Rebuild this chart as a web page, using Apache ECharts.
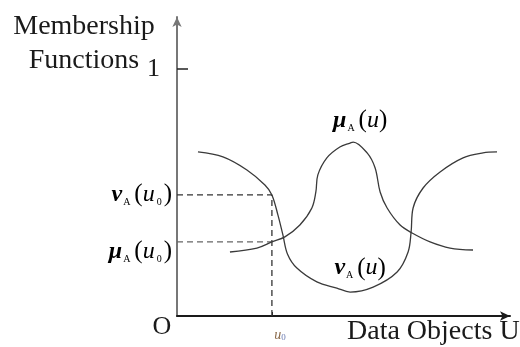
<!DOCTYPE html>
<html>
<head>
<meta charset="utf-8">
<script src="https://cdn.jsdelivr.net/npm/echarts@6/dist/echarts.min.js"></script>
<style>
  html, body { margin: 0; padding: 0; background: #ffffff; }
  #chart { width: 520px; height: 347px; }
</style>
</head>
<body>
<div id="chart"></div>
<script>
// Non-membership function nu_A(u): sampled (u, value) pairs
const nuU = [0.63, 1.38, 2.10, 2.64, 2.85, 3.03, 3.18, 3.32, 3.60, 4.20, 4.80, 5.20, 5.89, 6.61, 6.94, 7.03, 7.09, 7.39, 7.90, 8.59, 9.19, 9.61];
const nuV = [0.664, 0.644, 0.591, 0.530, 0.49, 0.409, 0.328, 0.250, 0.194, 0.138, 0.113, 0.097, 0.117, 0.178, 0.259, 0.340, 0.437, 0.518, 0.583, 0.640, 0.660, 0.664];

// Membership function mu_A(u)
const muU = [1.59, 2.40, 2.85, 3.24, 3.69, 4.05, 4.17, 4.23, 4.50, 4.89, 5.20, 5.29, 5.71, 5.95, 6.10, 6.31, 6.70, 7.06, 7.60, 8.20, 8.89];
const muV = [0.259, 0.275, 0.30, 0.320, 0.368, 0.437, 0.502, 0.571, 0.640, 0.684, 0.700, 0.704, 0.660, 0.599, 0.502, 0.437, 0.368, 0.336, 0.300, 0.275, 0.267];

// Marked data object u0 and the two function values read there
const u0 = 2.85;
const nuAtU0 = 0.49;
const muAtU0 = 0.30;

// Axis tick values and titles
const yTicks = [1];
const xTicks = [u0];
const yTitle = 'Membership\nFunctions';
const xTitle = 'Data Objects U';

const serif = '"Liberation Serif", "DejaVu Serif", serif';
const ink = '#2e3575';

const zip = (xs, ys) => xs.map((x, i) => [x, ys[i]]);

const chart = echarts.init(document.getElementById('chart'), null, { renderer: 'canvas' });

const option = {
  animation: false,
  backgroundColor: '#ffffff',
  grid: { left: 177, right: 10, top: 17, bottom: 31, containLabel: false, outerBoundsMode: 'none' },
  xAxis: {
    type: 'value',
    min: 0,
    max: 10,
    name: xTitle,
    nameLocation: 'end',
    nameGap: -163,
    nameMoveOverlap: false,
    nameTextStyle: {
      fontFamily: serif, fontSize: 28, color: '#1a1a1a',
      align: 'left', verticalAlign: 'top', padding: [2, 0, 0, 0]
    },
    axisLine: {
      show: true,
      symbol: ['none', 'arrow'],
      symbolSize: [7, 10],
      lineStyle: { color: '#1a1a1a', width: 2 }
    },
    axisTick: { show: true, inside: true, length: 4, customValues: xTicks, lineStyle: { color: '#222', width: 1 } },
    axisLabel: {
      show: true,
      customValues: xTicks,
      margin: 12,
      formatter: () => '{u|u}{z|0}',
      rich: {
        u: { fontFamily: serif, fontStyle: 'italic', fontSize: 14, color: '#8a6a4a', padding: [0, 0, 0, 16] },
        z: { fontFamily: serif, fontSize: 9, color: '#6a7ab0', verticalAlign: 'bottom' }
      }
    },
    splitLine: { show: false }
  },
  yAxis: {
    type: 'value',
    min: 0,
    max: 1.21,
    name: yTitle,
    nameLocation: 'end',
    nameGap: -27,
    nameMoveOverlap: false,
    nameTextStyle: {
      fontFamily: serif, fontSize: 28, color: '#1a1a1a', lineHeight: 34,
      align: 'center', verticalAlign: 'middle', padding: [0, 186, 0, 0]
    },
    axisLine: {
      show: true,
      symbol: ['none', 'arrow'],
      symbolSize: [7, 10],
      lineStyle: { color: '#777', width: 2 }
    },
    axisTick: { show: true, inside: true, length: 11, customValues: yTicks, lineStyle: { color: '#222', width: 1.5 } },
    axisLabel: {
      show: true,
      customValues: yTicks,
      margin: 17,
      fontFamily: serif, fontSize: 26, color: '#1a1a1a'
    },
    splitLine: { show: false }
  },
  series: [
    {
      name: 'nu',
      type: 'line',
      data: zip(nuU, nuV),
      smooth: 0.35,
      symbol: 'none',
      lineStyle: { color: '#3a3a3a', width: 1.3 },
      z: 3
    },
    {
      name: 'mu',
      type: 'line',
      data: zip(muU, muV),
      smooth: 0.35,
      symbol: 'none',
      lineStyle: { color: '#3a3a3a', width: 1.3 },
      z: 3
    },
    {
      name: 'nuGuide',
      type: 'line',
      data: [[0, nuAtU0], [u0, nuAtU0], [u0, 0]],
      symbol: 'none',
      lineStyle: { color: '#333', width: 1.3, type: [6, 4] },
      z: 2
    },
    {
      name: 'muGuide',
      type: 'line',
      data: [[0, muAtU0], [u0, muAtU0]],
      symbol: 'none',
      lineStyle: { color: '#666', width: 1.2, type: [6, 4] },
      z: 2
    }
  ]
};

chart.setOption(option);

// Function-name labels with Greek letters and subscripts, anchored in data space
const mathRich = {
  g: { fontFamily: serif, fontStyle: 'italic', fontWeight: 'bold', fontSize: 24, color: ink },
  s: { fontFamily: serif, fontSize: 10, color: ink, verticalAlign: 'bottom', padding: [0, 4, 0, 1] },
  p: { fontFamily: serif, fontSize: 25, color: ink },
  u: { fontFamily: serif, fontStyle: 'italic', fontSize: 24, color: ink },
  z: { fontFamily: serif, fontSize: 10, color: ink, verticalAlign: 'bottom', padding: [0, 2, 0, 2] }
};

const annotations = [
  { text: '{g|μ}{s|A}{p|(}{u|u}{p|)}', at: [5.5, 0.79], dx: 0, dy: 0, align: 'center' },
  { text: '{g|ν}{s|A}{p|(}{u|u}{p|)}', at: [5.5, 0.194], dx: 0, dy: 0, align: 'center' },
  { text: '{g|ν}{s|A}{p|(}{u|u}{z|0}{p|)}', at: [0, nuAtU0], dx: -5, dy: 0, align: 'right' },
  { text: '{g|μ}{s|A}{p|(}{u|u}{z|0}{p|)}', at: [0, muAtU0], dx: -5, dy: 10, align: 'right' }
];

const graphics = annotations.map(a => {
  const p = chart.convertToPixel({ gridIndex: 0 }, a.at);
  return {
    type: 'text',
    x: p[0] + a.dx,
    y: p[1] + a.dy,
    style: { text: a.text, rich: mathRich, align: a.align, verticalAlign: 'middle' },
    z: 10
  };
});

const origin = chart.convertToPixel({ gridIndex: 0 }, [0, 0]);
graphics.push({
  type: 'text',
  x: origin[0] - 15,
  y: origin[1] + 11,
  style: { text: 'O', fontFamily: serif, fontSize: 26, fill: '#1a1a1a', align: 'center', verticalAlign: 'middle' },
  z: 10
});

chart.setOption({ graphic: graphics });
</script>
</body>
</html>
